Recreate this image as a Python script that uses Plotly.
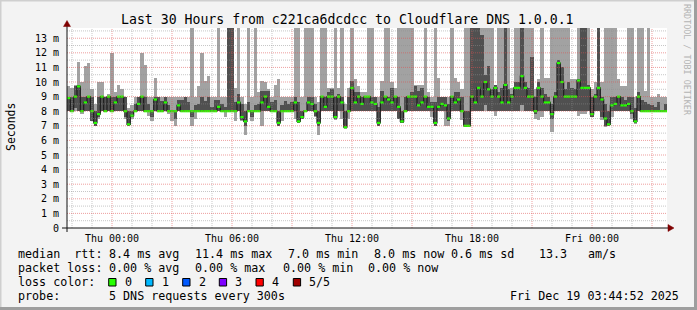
import plotly.graph_objects as go
import pandas as pd

# ---------------- data (10-minute consolidated steps, values in ms) ----------------
START = "2025-12-17 21:45:00"
STEP_MIN = 10

ping_min = [
    8.0, 8.0, 8.0, 8.0, 7.8, 8.0, 8.0, 7.3, 7.0, 7.5,
    8.0, 8.0, 8.0, 8.0, 8.0, 8.0, 8.0, 7.5, 7.0, 7.5,
    8.0, 8.0, 8.0, 8.0, 7.7, 7.3, 8.0, 8.0, 8.0, 8.0,
    7.8, 7.3, 7.0, 8.0, 8.0, 8.0, 8.0, 7.0, 7.5, 8.0,
    8.0, 8.0, 8.0, 8.0, 8.0, 8.0, 8.0, 7.6, 8.0, 8.0,
    7.3, 8.0, 7.3, 6.4, 8.0, 7.3, 8.0, 8.0, 7.0, 8.0,
    8.0, 8.0, 8.0, 7.0, 7.3, 8.0, 8.0, 8.0, 7.5, 7.2,
    7.5, 8.0, 8.0, 8.0, 7.6, 6.4, 8.0, 8.0, 8.0, 8.0,
    7.4, 8.0, 7.5, 6.8, 7.5, 8.0, 8.0, 8.0, 8.0, 8.0,
    8.0, 8.0, 8.0, 7.0, 8.0, 8.0, 8.0, 8.0, 8.0, 7.5,
    7.2, 8.0, 8.0, 8.0, 8.0, 8.0, 8.0, 8.0, 8.0, 7.6,
    7.0, 8.0, 8.0, 7.0, 7.0, 8.0, 8.0, 8.0, 7.4, 6.9,
    7.0, 8.0, 8.0, 8.0, 8.0, 8.0, 8.0, 8.0, 7.7, 8.0,
    8.0, 8.0, 8.0, 8.0, 8.0, 8.0, 8.0, 8.0, 8.0, 8.0,
    7.5, 7.4, 7.6, 8.0, 8.0, 6.6, 8.0, 8.0, 8.0, 8.0,
    8.0, 8.0, 8.0, 7.7, 7.8, 7.8, 8.0, 7.6, 8.0, 8.0,
    7.4, 6.9, 7.0, 7.6, 8.0, 8.0, 8.0, 8.0, 8.0, 7.5,
    7.1, 8.0, 8.0, 8.0, 8.0, 8.0, 8.0, 8.0, 8.0, 8.0,
]
ping_lo = [
    8.0, 8.0, 8.2, 8.0, 8.0, 8.0, 8.0, 7.3, 7.0, 7.6,
    8.0, 8.0, 8.0, 8.0, 8.0, 8.0, 8.0, 7.6, 7.0, 7.6,
    8.0, 8.0, 8.0, 8.0, 8.0, 7.6, 8.0, 8.0, 8.0, 8.0,
    8.0, 8.0, 7.5, 8.0, 8.0, 8.0, 8.0, 7.6, 8.0, 8.0,
    8.0, 8.0, 8.0, 8.0, 8.0, 8.0, 8.0, 8.0, 8.0, 8.0,
    8.0, 8.0, 7.4, 7.0, 8.0, 7.6, 8.0, 8.0, 8.0, 8.0,
    8.0, 8.0, 8.0, 7.0, 8.0, 8.0, 8.0, 8.0, 8.0, 7.2,
    7.5, 8.0, 8.0, 8.0, 7.7, 7.0, 8.0, 8.0, 8.0, 8.0,
    7.5, 8.0, 8.0, 6.9, 8.0, 8.0, 8.0, 8.0, 8.0, 8.0,
    8.0, 8.0, 8.0, 7.0, 8.0, 8.0, 8.0, 8.0, 8.0, 7.5,
    7.2, 8.0, 8.0, 8.0, 8.0, 8.0, 8.0, 8.0, 8.0, 8.0,
    7.0, 8.0, 8.0, 8.0, 7.3, 8.0, 8.0, 8.0, 8.0, 6.9,
    7.0, 8.0, 8.0, 8.0, 8.0, 8.4, 8.0, 8.0, 8.0, 8.0,
    8.0, 8.0, 8.0, 8.0, 8.0, 8.0, 8.4, 8.0, 8.0, 8.0,
    7.8, 8.0, 8.0, 8.0, 8.0, 7.5, 8.0, 8.0, 8.0, 8.0,
    8.0, 8.0, 8.0, 8.0, 8.0, 8.0, 8.0, 7.6, 8.0, 8.0,
    7.6, 7.0, 7.0, 8.0, 8.0, 8.0, 8.0, 8.0, 8.0, 7.8,
    7.2, 8.0, 8.0, 8.0, 8.0, 8.0, 8.0, 8.0, 8.0, 8.0,
]
ping_median = [
    8.9, 8.0, 9.0, 9.7, 8.0, 8.6, 9.0, 8.0, 7.2, 7.8,
    9.0, 8.0, 9.0, 8.0, 8.6, 9.0, 9.0, 8.0, 7.1, 7.7,
    8.0, 8.5, 9.0, 8.0, 8.0, 8.0, 8.8, 8.0, 8.0, 8.6,
    8.0, 8.0, 8.0, 8.4, 8.0, 8.0, 8.0, 8.0, 8.0, 8.0,
    8.0, 8.0, 8.0, 8.0, 8.0, 8.3, 8.0, 8.0, 8.0, 8.0,
    8.0, 8.6, 7.6, 7.3, 8.0, 8.0, 8.0, 8.0, 8.6, 9.0,
    8.3, 8.0, 8.0, 7.2, 8.0, 8.0, 8.0, 8.0, 8.6, 7.3,
    7.6, 8.0, 8.6, 8.5, 8.0, 7.2, 9.0, 8.3, 9.0, 9.0,
    7.6, 9.0, 8.6, 6.9, 8.0, 9.6, 8.6, 9.0, 8.5, 9.0,
    9.0, 8.6, 8.5, 7.2, 8.6, 9.0, 8.8, 8.6, 9.0, 8.3,
    7.3, 8.0, 9.0, 9.0, 9.0, 8.4, 8.6, 9.0, 8.3, 8.3,
    7.2, 8.3, 8.5, 8.4, 7.5, 9.0, 8.6, 8.8, 8.0, 7.0,
    7.0, 9.0, 8.6, 9.6, 9.0, 10.0, 9.5, 9.0, 9.6, 9.0,
    8.6, 9.8, 8.6, 9.0, 9.6, 9.6, 10.4, 9.6, 9.0, 9.0,
    8.0, 9.6, 9.0, 8.6, 8.6, 7.8, 9.0, 11.3, 10.0, 9.0,
    9.0, 9.0, 9.0, 10.1, 9.6, 9.6, 9.6, 7.8, 9.0, 9.6,
    8.8, 7.5, 7.1, 8.4, 8.5, 9.0, 8.4, 8.4, 8.5, 8.0,
    7.3, 9.0, 8.0, 8.0, 8.0, 8.0, 8.0, 8.0, 8.0, 8.0,
]
ping_hi = [
    9.0, 9.0, 9.7, 9.8, 9.0, 9.0, 9.0, 9.0, 8.0, 9.0,
    9.0, 9.0, 9.0, 9.0, 9.0, 9.0, 9.0, 9.0, 8.0, 8.0,
    8.5, 9.0, 9.0, 9.0, 8.5, 8.0, 9.0, 9.0, 8.7, 9.0,
    8.4, 8.0, 8.0, 8.8, 8.8, 9.0, 8.6, 8.0, 8.4, 8.5,
    9.0, 8.7, 9.0, 8.3, 8.8, 8.8, 8.5, 8.3, 14.0, 14.0,
    8.6, 9.2, 8.5, 8.0, 8.6, 8.0, 8.4, 8.5, 9.4, 9.4,
    9.4, 8.6, 8.8, 8.0, 8.4, 8.7, 8.5, 8.6, 9.0, 8.6,
    8.0, 8.0, 9.0, 9.0, 8.5, 8.0, 9.0, 9.0, 9.3, 9.5,
    9.0, 9.2, 9.0, 8.0, 9.0, 10.1, 9.3, 9.3, 9.0, 9.0,
    9.0, 9.0, 9.0, 8.3, 9.4, 9.0, 9.0, 9.6, 9.0, 9.0,
    8.0, 9.0, 9.0, 9.3, 9.7, 9.4, 9.6, 9.0, 9.0, 8.6,
    8.6, 9.0, 9.0, 9.0, 8.5, 9.0, 9.3, 9.3, 9.0, 8.0,
    8.0, 14.0, 14.0, 14.0, 13.2, 10.5, 11.1, 9.5, 9.8, 9.3,
    9.6, 14.0, 9.5, 9.2, 10.0, 10.0, 14.0, 10.0, 9.6, 11.7,
    9.0, 10.0, 9.6, 9.2, 9.0, 8.5, 9.3, 11.5, 11.0, 9.5,
    10.0, 9.6, 9.5, 10.2, 14.0, 14.0, 9.8, 9.0, 9.2, 14.0,
    9.0, 8.5, 8.0, 9.0, 9.0, 9.0, 9.0, 8.8, 9.0, 9.0,
    8.2, 9.3, 8.8, 8.6, 8.5, 8.4, 8.3, 8.6, 8.0, 8.5,
]
ping_max = [
    9.7, 9.6, 9.8, 11.4, 10.0, 11.1, 11.3, 9.5, 8.5, 10.0,
    10.0, 9.0, 9.2, 12.0, 9.3, 9.8, 9.5, 9.0, 8.2, 8.4,
    9.0, 9.0, 12.0, 11.2, 9.0, 9.0, 10.3, 9.0, 9.0, 9.0,
    9.0, 9.0, 9.0, 9.0, 9.0, 9.0, 9.0, 14.0, 9.0, 9.7,
    12.0, 10.1, 10.4, 9.0, 9.0, 14.0, 9.0, 9.0, 14.0, 14.0,
    9.6, 14.0, 9.0, 8.5, 14.0, 9.0, 14.0, 9.3, 10.1, 10.0,
    9.5, 9.0, 9.8, 10.2, 9.0, 9.0, 9.0, 9.0, 14.0, 14.0,
    9.0, 14.0, 14.0, 14.0, 9.0, 8.6, 14.0, 14.0, 9.6, 9.6,
    14.0, 9.6, 14.0, 8.5, 9.6, 14.0, 10.2, 9.7, 9.3, 9.3,
    14.0, 14.0, 9.0, 9.0, 10.1, 14.0, 14.0, 10.0, 9.6, 14.0,
    14.0, 14.0, 14.0, 14.0, 9.8, 9.8, 9.8, 14.0, 9.3, 9.0,
    14.0, 10.3, 9.0, 9.0, 9.0, 14.0, 10.3, 10.0, 9.5, 14.0,
    14.0, 14.0, 14.0, 14.0, 14.0, 14.0, 14.0, 14.0, 9.8, 14.0,
    14.0, 14.0, 14.0, 9.6, 14.0, 14.0, 14.0, 14.0, 14.0, 14.0,
    9.5, 10.2, 14.0, 10.3, 10.3, 14.0, 14.0, 14.0, 14.0, 14.0,
    14.0, 10.2, 10.2, 14.0, 14.0, 14.0, 14.0, 9.5, 10.0, 14.0,
    10.0, 14.0, 14.0, 14.0, 14.0, 10.2, 9.7, 9.7, 14.0, 14.0,
    9.0, 14.0, 14.0, 9.4, 14.0, 9.0, 9.0, 9.2, 9.0, 9.0,
]

y_tick_vals = list(range(0, 14))
y_tick_text = ["0"] + [f"{v} m" for v in range(1, 14)]
x_tick_text = ["Thu 00:00", "Thu 06:00", "Thu 12:00", "Thu 18:00", "Fri 00:00"]

stats_line1 = ["median  rtt:", "8.4 ms avg", "11.4 ms max", "7.0 ms min", "8.0 ms now", "0.6 ms sd", "13.3", "am/s"]
stats_line2 = ["packet loss:", "0.00 % avg", "0.00 % max", "0.00 % min", "0.00 % now"]
loss_labels = ["0", "1", "2", "3", "4", "5/5"]
loss_colors = ["#26ff00", "#00b8ff", "#0059ff", "#7e00ff", "#ff0000", "#a00000"]
probe_text = "5 DNS requests every 300s"
stamp_text = "Fri Dec 19 03:44:52 2025"
title_text = "Last 30 Hours from c221ca6dcdcc to Cloudflare DNS 1.0.0.1"

# ---------------- layout geometry ----------------
FW, FH = 697, 310
ML, MR, MT, MB = 67, 30, 28, 82
PW, PH = FW - ML - MR, FH - MT - MB
FONT = "DejaVu Sans Mono"


def px(x):
    return (x - ML) / PW


def py(y):
    return (FH - MB - y) / PH


start = pd.Timestamp(START)
step = pd.Timedelta(minutes=STEP_MIN)
n = len(ping_median)
t_left = [start + step * i for i in range(n)]
t_mid = [t + step / 2 for t in t_left]
end = start + pd.Timedelta(hours=30)
step_ms = STEP_MIN * 60 * 1000

fig = go.Figure()
# outer smoke (min..max)
fig.add_trace(go.Bar(
    x=t_mid, base=ping_min, y=[b - a for a, b in zip(ping_min, ping_max)],
    width=step_ms, marker=dict(color="#a2a2a2", line=dict(width=0)),
    hoverinfo="skip", showlegend=False))
# inner smoke (2nd..4th)
fig.add_trace(go.Bar(
    x=t_mid, base=ping_lo, y=[b - a for a, b in zip(ping_lo, ping_hi)],
    width=step_ms, marker=dict(color="#505050", line=dict(width=0)),
    hoverinfo="skip", showlegend=False))
# median connectors
fig.add_trace(go.Scatter(
    x=t_left + [end], y=ping_median + [ping_median[-1]], mode="lines",
    line=dict(color="#1e1e1e", width=1.2, shape="hv"),
    hoverinfo="skip", showlegend=False))
# median (loss colour, 0 loss = green)
gx, gy = [], []
for t, m in zip(t_left, ping_median):
    gx += [t, t + step, None]
    gy += [m, m, None]
fig.add_trace(go.Scatter(
    x=gx, y=gy, mode="lines", line=dict(color=loss_colors[0], width=2.2),
    hoverinfo="skip", showlegend=False))

shapes = []
# grid lines (drawn above the smoke like rrdtool)
hour = pd.Timestamp("2025-12-17 22:00:00")
while hour <= end:
    major = hour.hour % 3 == 0
    shapes.append(dict(type="line", xref="x", yref="paper", x0=hour, x1=hour, y0=0, y1=1,
                       line=dict(color="rgba(222,81,81,0.55)" if major else "rgba(143,143,143,0.5)",
                                 width=1, dash="1px,1px"), layer="above"))
    hour += pd.Timedelta(hours=1)
for k in range(1, 28):
    v = k * 0.5
    major = k % 2 == 0
    shapes.append(dict(type="line", xref="paper", yref="y", x0=0, x1=1, y0=v, y1=v,
                       line=dict(color="rgba(222,81,81,0.55)" if major else "rgba(143,143,143,0.5)",
                                 width=1, dash="1px,1px"), layer="above"))
# axes and arrows
shapes.append(dict(type="line", xref="paper", yref="paper", x0=px(62), x1=px(669), y0=py(228), y1=py(228),
                   line=dict(color="#101010", width=1), layer="above"))
shapes.append(dict(type="line", xref="paper", yref="paper", x0=px(67), x1=px(67), y0=py(232), y1=py(24),
                   line=dict(color="#101010", width=1), layer="above"))
shapes.append(dict(type="path", xref="paper", yref="paper",
                   path=f"M {px(674)} {py(228)} L {px(668)} {py(224.5)} L {px(668)} {py(231.5)} Z",
                   fillcolor="#7f0000", line=dict(color="#7f0000", width=0.5), layer="above"))
shapes.append(dict(type="path", xref="paper", yref="paper",
                   path=f"M {px(67)} {py(20.5)} L {px(63.5)} {py(26.5)} L {px(70.5)} {py(26.5)} Z",
                   fillcolor="#7f0000", line=dict(color="#7f0000", width=0.5), layer="above"))
# image frame (3D shade)
shapes.append(dict(type="line", xref="paper", yref="paper", x0=px(0), x1=px(697), y0=py(0.75), y1=py(0.75),
                   line=dict(color="#cfcfcf", width=1.5)))
shapes.append(dict(type="line", xref="paper", yref="paper", x0=px(0.75), x1=px(0.75), y0=py(0), y1=py(310),
                   line=dict(color="#cfcfcf", width=1.5)))
shapes.append(dict(type="line", xref="paper", yref="paper", x0=px(0), x1=px(697), y0=py(308.5), y1=py(308.5),
                   line=dict(color="#9e9e9e", width=3)))
shapes.append(dict(type="line", xref="paper", yref="paper", x0=px(695.5), x1=px(695.5), y0=py(0), y1=py(310),
                   line=dict(color="#9e9e9e", width=3)))
# loss colour boxes
box_x = [108.7, 145.7, 182.7, 219.3, 256.0, 293.3]
for bx, col in zip(box_x, loss_colors):
    shapes.append(dict(type="rect", xref="paper", yref="paper",
                       x0=px(bx), x1=px(bx + 7.3), y0=py(286), y1=py(278.5),
                       fillcolor=col, line=dict(color="#000000", width=1)))

ann = []


def text(x, y, s, size=11.7, anchor="left", color="#000000", angle=0):
    ann.append(dict(x=px(x), y=py(y), xref="paper", yref="paper", text=s.replace(" ", "\u00a0"),
                    showarrow=False, xanchor=anchor, yanchor="middle", textangle=angle,
                    font=dict(family=FONT, size=size, color=color)))


text(347, 19, title_text, size=13.2, anchor="center")
text(11, 127, "Seconds", size=11.5, anchor="center", angle=-90)
text(687, 60, "RRDTOOL / TOBI OETIKER", size=8.4, anchor="center", color="#b4b4b4", angle=90)
l1x = [16, 107.3, 193.3, 286.0, 372.3, 449.3, 537.3, 585.7]
for xx, s in zip(l1x, stats_line1):
    text(xx, 254, s)
l2x = [16, 107.3, 193.3, 281.0, 366.0]
for xx, s in zip(l2x, stats_line2):
    text(xx, 268.3, s)
text(16, 282.3, "loss color:")
lab_x = [123.3, 160.0, 196.7, 233.3, 270.0, 307.3]
for xx, s in zip(lab_x, loss_labels):
    text(xx, 282.3, s)
text(16, 295.7, "probe:")
text(107.3, 295.7, probe_text)
text(681, 295.7, stamp_text, anchor="right")

x_tick_vals = [pd.Timestamp("2025-12-18 00:00:00") + pd.Timedelta(hours=6 * i) for i in range(5)]

fig.update_layout(
    width=FW, height=FH,
    margin=dict(l=ML, r=MR, t=MT, b=MB, pad=0),
    paper_bgcolor="#f3f3f3", plot_bgcolor="#ffffff",
    barmode="overlay", bargap=0,
    showlegend=False,
    shapes=shapes, annotations=ann,
    font=dict(family=FONT, size=10, color="#000000"),
    xaxis=dict(type="date", range=[start, end], showgrid=False, zeroline=False, showline=False,
               tickmode="array", tickvals=x_tick_vals, ticktext=x_tick_text, ticks="",
               ticklabelstandoff=3, tickfont=dict(family=FONT, size=10, color="#000000"), fixedrange=True),
    yaxis=dict(range=[0, 13.7], showgrid=False, zeroline=False, showline=False,
               tickmode="array", tickvals=y_tick_vals, ticktext=y_tick_text, ticks="",
               ticklabelstandoff=7, tickfont=dict(family=FONT, size=10, color="#000000"), fixedrange=True),
)

fig.write_html("out.html")
